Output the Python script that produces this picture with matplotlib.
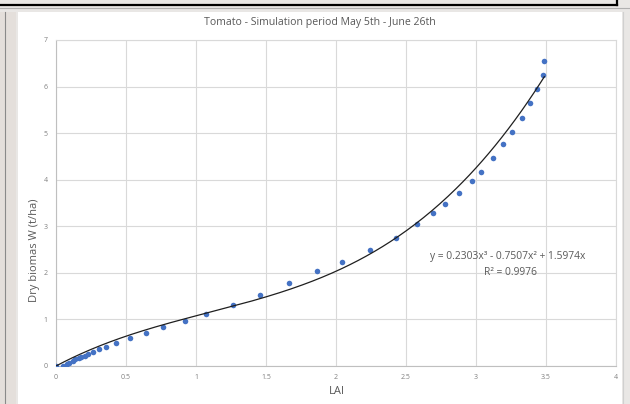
import numpy as np
import matplotlib
matplotlib.use("Agg")
import matplotlib.pyplot as plt
from matplotlib.lines import Line2D
from matplotlib.patches import Rectangle

# ---- data ----
lai = [0.0, 0.052, 0.075, 0.096, 0.118, 0.139, 0.161, 0.182, 0.204, 0.228, 0.262,
       0.306, 0.360, 0.431, 0.526, 0.642, 0.763, 0.919, 1.074, 1.264, 1.457,
       1.664, 1.862, 2.045, 2.243, 2.426, 2.581, 2.695, 2.781, 2.879, 2.971,
       3.038, 3.119, 3.195, 3.257, 3.326, 3.388, 3.438, 3.479, 3.488]
biomass = [0.0, 0.01, 0.04, 0.075, 0.11, 0.14, 0.17, 0.20, 0.225, 0.26, 0.295,
           0.367, 0.417, 0.489, 0.597, 0.705, 0.827, 0.975, 1.122, 1.305, 1.530,
           1.775, 2.032, 2.238, 2.489, 2.753, 3.054, 3.277, 3.47, 3.719, 3.963,
           4.17, 4.464, 4.77, 5.015, 5.315, 5.637, 5.938, 6.238, 6.552]
# trendline coefficients as printed on the chart (x^3, x^2, x)
coef = [0.2303, -0.7507, 1.5974]
r2_text = "R² = 0.9976"
eq_text = "y = 0.2303x³ - 0.7507x² + 1.5974x"
title = "Tomato - Simulation period May 5th - June 26th"
xticks = [0, 0.5, 1, 1.5, 2, 2.5, 3, 3.5, 4]
xticklabels = ["0", "0.5", "1", "1.5", "2", "2.5", "3", "3.5", "4"]
yticks = [0, 1, 2, 3, 4, 5, 6, 7]

W, H = 630, 404
plt.rcParams['font.family'] = ['Open Sans', 'DejaVu Sans']
fig = plt.figure(figsize=(W / 100, H / 100), dpi=100, facecolor="#e9e7e5")

def fx(px):
    return px / W

def fy(py):
    return 1 - py / H

# background panel decorations
fig.patches.append(Rectangle((fx(18), 0), fx(604), fy(12), transform=fig.transFigure,
                             facecolor="white", edgecolor="none", zorder=-5))
fig.patches.append(Rectangle((fx(0), 0), fx(16), fy(12), transform=fig.transFigure,
                             facecolor="#e4dfdb", edgecolor="none", zorder=-5))
fig.lines.append(Line2D([fx(5), fx(5)], [fy(12), fy(404)], transform=fig.transFigure,
                        color="#8a8a8a", lw=0.8, zorder=-4))
fig.lines.append(Line2D([fx(0), fx(617)], [fy(5), fy(5)], transform=fig.transFigure,
                        color="black", lw=1.6, zorder=-4))
fig.lines.append(Line2D([fx(617), fx(617)], [fy(5), fy(0)], transform=fig.transFigure,
                        color="black", lw=1.6, zorder=-4))
fig.lines.append(Line2D([fx(0), fx(630)], [fy(8), fy(8)], transform=fig.transFigure,
                        color="#b0b0b0", lw=0.8, zorder=-4))
fig.lines.append(Line2D([fx(623), fx(623)], [fy(12), fy(404)], transform=fig.transFigure,
                        color="#d0d0d0", lw=0.8, zorder=-4))

ax = fig.add_axes([fx(56), fy(366), fx(616) - fx(56), fy(40) - fy(366)])
ax.set_zorder(5)
ax.set_facecolor("white")
ax.set_xlim(0, 4)
ax.set_ylim(0, 7)
ax.set_xticks(xticks)
ax.set_xticklabels(xticklabels)
ax.set_yticks(yticks)
ax.grid(True, color="#d9d9d9", lw=0.8)
ax.set_axisbelow(True)
for s in ["top", "right"]:
    ax.spines[s].set_color("#d9d9d9")
    ax.spines[s].set_linewidth(0.8)
for s in ["left", "bottom"]:
    ax.spines[s].set_color("#bfbfbf")
    ax.spines[s].set_linewidth(0.8)
ax.tick_params(length=0, labelsize=5, colors="#808080", pad=6)

ax.scatter(lai, biomass, s=16, color="#4472c4", zorder=3, linewidths=0)

xs = np.linspace(0, max(lai), 300)
ys = coef[0] * xs ** 3 + coef[1] * xs ** 2 + coef[2] * xs
ax.plot(xs, ys, color="#1f1f1f", lw=0.9, zorder=4)

ax.text(2.67, 2.36, eq_text, fontsize=7.4, color="#595959", ha="left", va="center")
ax.text(3.245, 2.0, r2_text, fontsize=7.4, color="#595959", ha="center", va="center")

fig.text(fx(320), fy(22), title, fontsize=7.6, color="#595959", ha="center", va="center")
fig.text(fx(35), fy(250), "Dry biomas W (t/ha)", fontsize=8, color="#595959",
         ha="center", va="center", rotation=90)
fig.text(fx(337), fy(391), "LAI", fontsize=8, color="#595959", ha="center", va="center")

fig.savefig("out.png", dpi=100, facecolor=fig.get_facecolor())
